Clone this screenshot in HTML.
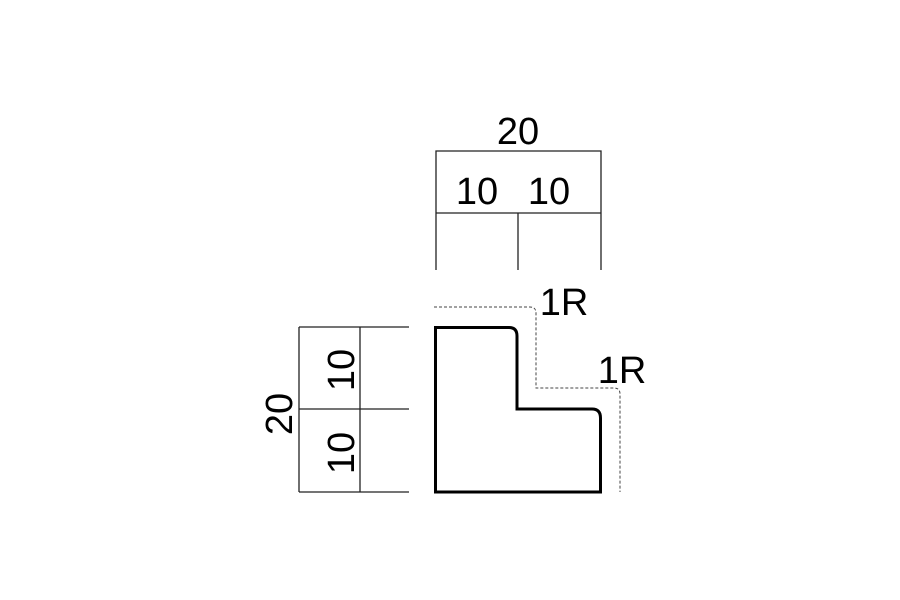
<!DOCTYPE html>
<html><head><meta charset="utf-8"><style>html,body{margin:0;padding:0;background:#fff;}svg{display:block}</style></head>
<body>
<svg width="900" height="600" viewBox="0 0 900 600" xmlns="http://www.w3.org/2000/svg" font-family="Liberation Sans, sans-serif" font-size="38" fill="#000">
<g stroke="#222" stroke-width="1.3" fill="none">
<path d="M436 270 V151 H601 V270"/>
<path d="M436 213 H601"/>
<path d="M518 213 V270"/>
<path d="M299 327 H409 M299 409 H409 M299 492 H409"/>
<path d="M299 327 V492 M360 327 V492"/>
</g>
<path d="M435.5 327.5 H509 Q517 327.5 517 336 V409 H592 Q600.5 409 600.5 418 V492 H435.5 Z" fill="none" stroke="#000" stroke-width="3"/>
<path d="M434 307 H530 Q536 307 536 313 V388 H614 Q620 388 620 394 V492" fill="none" stroke="#444" stroke-width="1" stroke-dasharray="3,2"/>
<text x="518" y="144" text-anchor="middle">20</text>
<text x="477" y="204" text-anchor="middle">10</text>
<text x="549" y="204" text-anchor="middle">10</text>
<text x="564" y="315" text-anchor="middle">1R</text>
<text x="622" y="383" text-anchor="middle">1R</text>
<text transform="translate(292,414) rotate(-90)" text-anchor="middle">20</text>
<text transform="translate(354,370) rotate(-90)" text-anchor="middle">10</text>
<text transform="translate(354,453) rotate(-90)" text-anchor="middle">10</text>
</svg>
</body></html>
